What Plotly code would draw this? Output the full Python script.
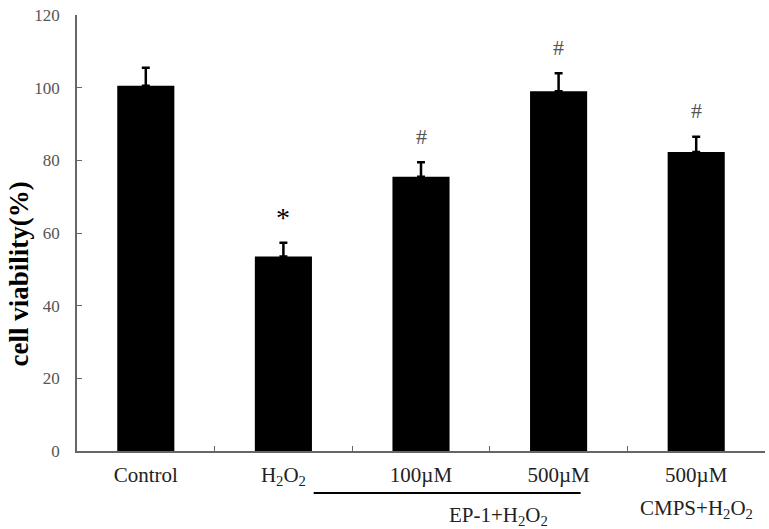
import plotly.graph_objects as go

categories = ["Control", "H2O2", "EP100", "EP500", "CMPS500"]
tick_labels = ["Control", "H<sub>2</sub>O<sub>2</sub>", "100µM", "500µM", "500µM"]
values = [100.5, 53.5, 75.5, 99.0, 82.3]
errors = [5.0, 3.8, 4.0, 5.0, 4.2]
marks = ["", "*", "#", "#", "#"]
y_ticks = [0, 20, 40, 60, 80, 100, 120]

FONT = "Liberation Serif"

fig = go.Figure()
fig.add_trace(go.Bar(
    x=categories, y=values, width=0.415,
    marker=dict(color="black", line=dict(color="black", width=0)),
    error_y=dict(type="data", symmetric=False, array=errors,
                 arrayminus=[0] * len(errors), color="black", thickness=2.5, width=4),
    showlegend=False,
))

for c, v, e, m in zip(categories, values, errors, marks):
    if not m:
        continue
    if m == "*":
        fig.add_annotation(x=c, y=v + e, text="*", showarrow=False, yanchor="middle",
                           yshift=25, font=dict(family=FONT, size=28, color="black"))
    else:
        fig.add_annotation(x=c, y=v + e, text="#", showarrow=False, yanchor="middle",
                           yshift=26, font=dict(family=FONT, size=22, color="#555"))

# group annotations
fig.add_shape(type="line", xref="x", yref="paper", x0=1.22, x1=3.16, y0=-0.0963, y1=-0.0963,
              line=dict(color="black", width=2))
fig.add_annotation(x=2.56, xref="x", y=-0.1491, yref="paper",
                   text="EP-1+H<sub>2</sub>O<sub>2</sub>", yanchor="middle",
                   showarrow=False, font=dict(family=FONT, size=21, color="#222"))
fig.add_annotation(x=4.0, xref="x", y=-0.133, yref="paper",
                   text="CMPS+H<sub>2</sub>O<sub>2</sub>", yanchor="middle",
                   showarrow=False, font=dict(family=FONT, size=21, color="#222"))

# y-axis title
fig.add_annotation(x=-0.085, xref="paper", y=0.406, yref="paper", text="<b>cell viability(%)</b>",
                   textangle=-90, showarrow=False, xanchor="center", yanchor="middle",
                   font=dict(family=FONT, size=27, color="black"))

fig.update_layout(
    width=769, height=529,
    margin=dict(l=77, r=4, t=15, b=78),
    plot_bgcolor="white", paper_bgcolor="white",
    font=dict(family=FONT, color="#222"),
)
fig.update_xaxes(
    type="category", tickvals=categories, ticktext=tick_labels,
    tickson="boundaries", ticks="inside", ticklen=5, tickcolor="#666",
    showline=True, linecolor="#666", linewidth=1.5, showgrid=False,
    tickfont=dict(family=FONT, size=21, color="#222"), range=[-0.5, 4.5],
    ticklabelstandoff=4,
)
fig.update_yaxes(
    range=[0, 120], tickvals=y_ticks, ticks="inside", ticklen=5, tickcolor="#666",
    showline=True, linecolor="#666", linewidth=1.5, showgrid=False, zeroline=False,
    tickfont=dict(family=FONT, size=17, color="#555"), ticklabelstandoff=12,
)

fig.write_html("out.html", config={"displayModeBar": False},
               post_script="document.body.style.margin='0';")
